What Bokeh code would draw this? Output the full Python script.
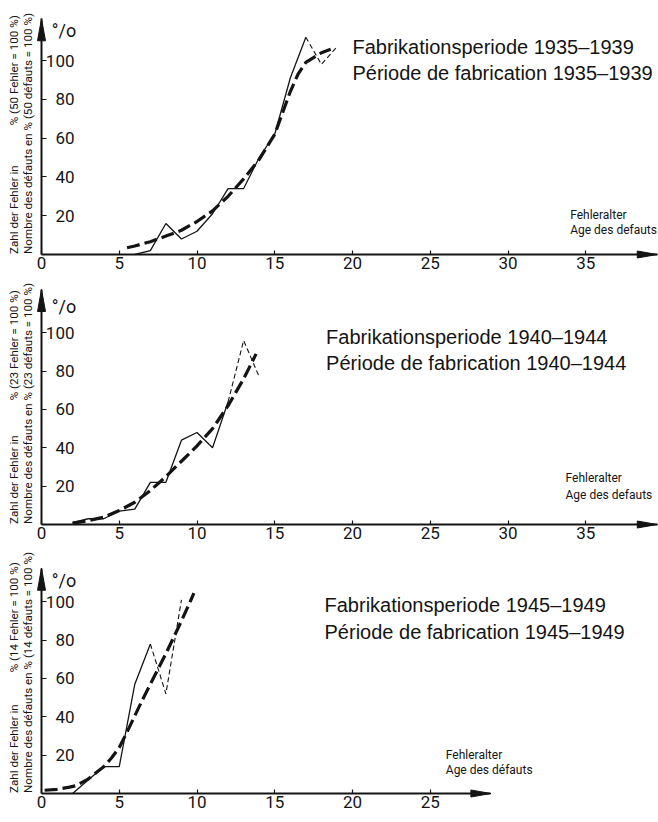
from math import pi
from bokeh.plotting import figure
from bokeh.layouts import column
from bokeh.models import Range1d, FixedTicker, Label
from bokeh.embed import file_html
from bokeh.resources import INLINE

# ---------------- data ----------------
# Panel 1: Fabrikationsperiode 1935-1939 (50 Fehler = 100 %)
p1_obs_x = [6, 7, 8, 9, 10, 11, 12, 13, 14, 15, 16, 17]
p1_obs_y = [0, 2, 16, 8, 12, 21, 34, 34, 50, 62, 91, 112]
p1_ext_x = [17, 18, 19]
p1_ext_y = [112, 98, 107]
p1_trend_x = [5.5, 6, 7, 8, 9, 10, 11, 12, 13, 14, 15, 16, 16.5, 17, 18, 18.6]
p1_trend_y = [3.5, 4.4, 6.6, 9.5, 12.5, 17, 22.5, 30, 39, 49, 62, 84, 93, 99, 104, 105.8]

# Panel 2: Fabrikationsperiode 1940-1944 (23 Fehler = 100 %)
p2_obs_x = [2, 3, 4, 5, 6, 7, 8, 9, 10, 11, 12]
p2_obs_y = [1, 3, 3, 7, 8, 22, 22, 44, 48, 40, 64]
p2_ext_x = [12, 13, 14]
p2_ext_y = [64, 96, 77]
p2_trend_x = [2, 3, 4, 5, 6, 7, 8, 9, 10, 11, 12, 13, 13.8]
p2_trend_y = [0.7, 2, 3.8, 7.3, 11.6, 17.7, 25, 33, 41, 50, 62, 76, 89]

# Panel 3: Fabrikationsperiode 1945-1949 (14 Fehler = 100 %)
p3_obs_x = [2, 3, 4, 5, 6, 7]
p3_obs_y = [0, 7, 14, 14, 57, 78]
p3_ext_x = [7, 8, 9]
p3_ext_y = [78, 52, 101]
p3_trend_x = [0.2, 1, 1.8, 2.2, 3, 4, 4.5, 5, 5.5, 6, 6.5, 7, 7.5, 8, 8.5, 9, 9.5, 9.8]
p3_trend_y = [1.7, 2.2, 3.3, 4, 7.5, 14, 18.5, 24, 32, 40.5, 49, 57, 65, 73, 81.5, 90, 99, 104.5]

x_ticks_long = [0, 5, 10, 15, 20, 25, 30, 35]
x_ticks_short = [0, 5, 10, 15, 20, 25]
y_ticks = [20, 40, 60, 80, 100]

titles = [
    ("Fabrikationsperiode 1935–1939", "Période de fabrication 1935–1939"),
    ("Fabrikationsperiode 1940–1944", "Période de fabrication 1940–1944"),
    ("Fabrikationsperiode 1945–1949", "Période de fabrication 1945–1949"),
]
ylab_de_a = "Zahl der Fehler in"
ylab_de_b = ["% (50 Fehler  =  100 %)", "% (23 Fehler  =  100 %)", "% (14 Fehler  =  100 %)"]
ylab_fr = ["Nombre des défauts en % (50 défauts = 100 %)",
           "Nombre des défauts en % (23 défauts = 100 %)",
           "Nombre des défauts en % (14 défauts = 100 %)"]
xlab_de = "Fehleralter"
xlab_fr = ["Age des defauts", "Age des defauts", "Age des défauts"]

# ---------------- styling ----------------
INK = "#141414"
NARROW = "Roboto"
SANS = "Liberation Sans"
W = 658
AXIS_X = 41      # px from figure left to the y axis
PPX = 15.55      # px per x unit


def panel(i, obs_x, obs_y, ext_x, ext_y, tr_x, tr_y, fig_h, axis_y, ppu,
          x_tip, y_tip, text_top, xticks, title_xy, xlab_xy, pct_y):
    x_start = -AXIS_X / PPX
    x_end = (W - AXIS_X) / PPX
    y_end = axis_y / ppu
    y_start = -(fig_h - axis_y) / ppu
    p = figure(width=W, height=fig_h, x_range=Range1d(x_start, x_end),
               y_range=Range1d(y_start, y_end),
               output_backend="svg", toolbar_location=None,
               min_border_left=0, min_border_right=0, min_border_top=0, min_border_bottom=0)
    p.grid.visible = False
    p.outline_line_color = None
    p.background_fill_color = "white"
    p.border_fill_color = "white"

    ax = p.xaxis[0]
    ax.fixed_location = 0
    ax.bounds = (0, x_tip)
    ax.ticker = FixedTicker(ticks=xticks)
    ax.axis_line_width = 2
    ax.axis_line_color = INK
    ax.major_tick_in = 4
    ax.major_tick_out = 0
    ax.minor_tick_in = 0
    ax.minor_tick_out = 0
    ax.major_tick_line_color = INK
    ax.major_tick_line_width = 1.2
    ax.major_label_text_font = NARROW
    ax.major_label_text_font_size = "17px"
    ax.major_label_text_color = INK
    ax.major_label_standoff = 2

    ay = p.yaxis[0]
    ay.fixed_location = 0
    ay.bounds = (0, y_tip)
    ay.ticker = FixedTicker(ticks=y_ticks)
    ay.axis_line_width = 2
    ay.axis_line_color = INK
    ay.major_tick_in = 5
    ay.major_tick_out = 0
    ay.minor_tick_in = 0
    ay.minor_tick_out = 0
    ay.major_tick_line_color = INK
    ay.major_tick_line_width = 1.2
    ay.major_label_text_font = NARROW
    ay.major_label_text_font_size = "17px"
    ay.major_label_text_color = INK
    ay.major_label_standoff = -33

    # arrow heads at the axis ends
    hw = 4.0 / PPX
    L = 22.0 / ppu
    p.patch([-hw, 0, hw], [y_tip - L, y_tip, y_tip - L], color=INK, level="overlay")
    hh = 3.5 / ppu
    Lx = 20.0 / PPX
    p.patch([x_tip - Lx, x_tip, x_tip - Lx], [-hh, 0, hh], color=INK, level="overlay")

    # curves
    p.line(obs_x, obs_y, line_width=1.3, color=INK)
    p.line(ext_x, ext_y, line_width=1.1, line_dash="5 3", color=INK)
    p.line(tr_x, tr_y, line_width=3.2, line_dash="13 5", color=INK)

    # texts
    t1, t2 = titles[i]
    tx, ty1, ty2 = title_xy
    for t, ty in ((t1, ty1), (t2, ty2)):
        p.add_layout(Label(x=tx, y=ty, text=t, text_font=SANS, text_font_size="20px",
                           text_color=INK, text_align="left", text_baseline="middle"))
    lx, ly1, ly2 = xlab_xy
    p.add_layout(Label(x=lx, y=ly1, text=xlab_de, text_font=NARROW, text_font_size="12px",
                       text_color=INK, text_align="left", text_baseline="middle"))
    p.add_layout(Label(x=lx, y=ly2, text=xlab_fr[i], text_font=NARROW, text_font_size="12px",
                       text_color=INK, text_align="left", text_baseline="middle"))
    p.add_layout(Label(x=1.45, y=pct_y, text="°/o", text_font=NARROW, text_font_size="18px",
                       text_color=INK, text_align="center", text_baseline="middle"))

    top_val = (axis_y - text_top) / ppu
    fs = "11.6px"
    p.add_layout(Label(x=-1.75, y=0.3, text=ylab_de_a, text_font=NARROW, text_font_size=fs,
                       text_color=INK, angle=pi / 2, text_align="left", text_baseline="middle"))
    p.add_layout(Label(x=-1.75, y=top_val, text=ylab_de_b[i], text_font=NARROW,
                       text_font_size=fs, text_color=INK, angle=pi / 2,
                       text_align="right", text_baseline="middle"))
    p.add_layout(Label(x=-0.88, y=0.3, text=ylab_fr[i], text_font=NARROW, text_font_size=fs,
                       text_color=INK, angle=pi / 2, text_align="left", text_baseline="middle"))
    return p


# figure 1: page y 0..277, x axis at page 254
p1 = panel(0, p1_obs_x, p1_obs_y, p1_ext_x, p1_ext_y, p1_trend_x, p1_trend_y,
           fig_h=277, axis_y=254, ppu=1.94, x_tip=39.6, y_tip=121.5, text_top=9,
           xticks=x_ticks_long,
           title_xy=(20.0, 107, 93.5), xlab_xy=(34.0, 20.6, 12.6), pct_y=115.5)
# figure 2: page y 277..548, x axis at page 524
p2 = panel(1, p2_obs_x, p2_obs_y, p2_ext_x, p2_ext_y, p2_trend_x, p2_trend_y,
           fig_h=271, axis_y=247, ppu=1.917, x_tip=39.6, y_tip=122.6, text_top=7,
           xticks=x_ticks_long,
           title_xy=(18.3, 98, 84.5), xlab_xy=(33.7, 24, 15.5), pct_y=113.5)
# figure 3: page y 548..821, x axis at page 793
p3 = panel(2, p3_obs_x, p3_obs_y, p3_ext_x, p3_ext_y, p3_trend_x, p3_trend_y,
           fig_h=273, axis_y=245, ppu=1.917, x_tip=28.9, y_tip=117.5, text_top=8,
           xticks=x_ticks_short,
           title_xy=(18.2, 98.5, 84), xlab_xy=(26.0, 20, 12), pct_y=111)

layout = column(p1, p2, p3)
open("out.html", "w").write(file_html(layout, INLINE))
